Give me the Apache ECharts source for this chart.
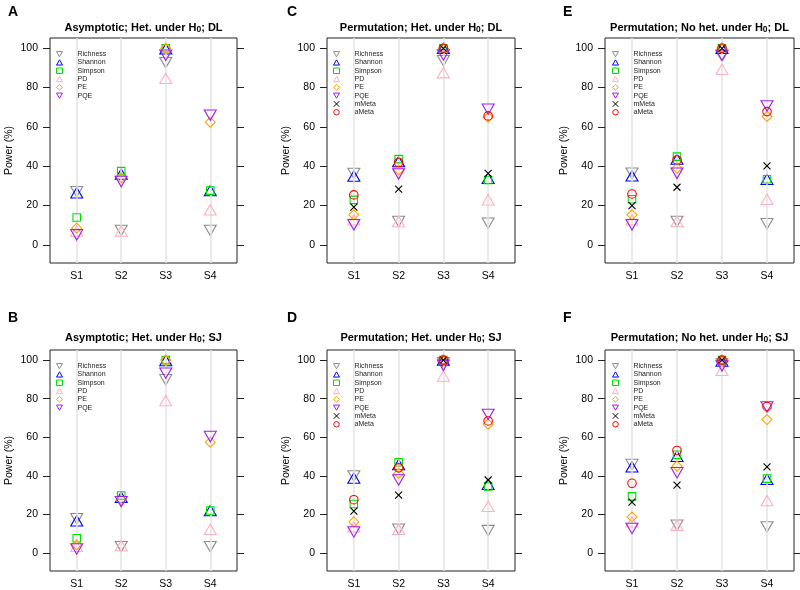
<!DOCTYPE html>
<html>
<head>
<meta charset="utf-8">
<script src="https://cdn.jsdelivr.net/npm/echarts@6/dist/echarts.min.js"></script>
<style>html,body{margin:0;padding:0;background:#fff}#c{width:800px;height:590px}</style>
</head>
<body>
<div id="c"></div>
<script>
// ---------- data ----------
const categories = ['S1', 'S2', 'S3', 'S4'];
const xPositions = [1, 2, 3, 4];
const yTicks = [0, 20, 40, 60, 80, 100];
const methodNames = ['Richness', 'Shannon', 'Simpson', 'PD', 'PE', 'PQE', 'mMeta', 'aMeta'];
const panelLetters = ['A', 'B', 'C', 'D', 'E', 'F'];
const panelTitles = [
  ['Asymptotic; Het. under ', '; DL'],
  ['Asymptotic; Het. under ', '; SJ'],
  ['Permutation; Het. under ', '; DL'],
  ['Permutation; Het. under ', '; SJ'],
  ['Permutation; No het. under ', '; DL'],
  ['Permutation; No het. under ', '; SJ']
];

// Panel A: Asymptotic; Het. under H0; DL
const A_Richness = [27.0, 7.3, 92.7, 7.3];
const A_Shannon  = [26.5, 36.0, 99.7, 27.6];
const A_Simpson  = [13.9, 37.5, 100, 27.6];
const A_PD       = [7.0, 7.0, 84.7, 17.8];
const A_PE       = [8.5, 34.2, 100, 62.4];
const A_PQE      = [5.1, 32.2, 96.5, 66.0];
// Panel B: Asymptotic; Het. under H0; SJ
const B_Richness = [17.9, 3.4, 89.8, 3.4];
const B_Shannon  = [16.8, 29.0, 99.8, 22.1];
const B_Simpson  = [7.7, 29.9, 100, 22.1];
const B_PD       = [3.5, 3.9, 79.0, 12.4];
const B_PE       = [4.3, 27.7, 100, 57.5];
const B_PQE      = [2.2, 26.7, 93.2, 60.4];
// Panel C: Permutation; Het. under H0; DL
const C_Richness = [36.3, 11.9, 93.7, 11.0];
const C_Shannon  = [35.0, 42.4, 100, 33.9];
const C_Simpson  = [22.9, 43.6, 100, 33.0];
const C_PD       = [12.7, 11.9, 87.6, 22.9];
const C_PE       = [15.3, 38.1, 100, 64.9];
const C_PQE      = [10.2, 36.1, 96.6, 69.0];
const C_mMeta    = [19.2, 28.3, 100, 36.4];
const C_aMeta    = [25.4, 41.9, 100, 65.6];
// Panel D: Permutation; Het. under H0; SJ
const D_Richness = [40.0, 12.4, 98.6, 11.7];
const D_Shannon  = [38.9, 45.9, 100, 35.7];
const D_Simpson  = [25.5, 47.1, 100, 34.5];
const D_PD       = [13.6, 12.4, 91.8, 24.3];
const D_PE       = [16.2, 41.3, 100, 66.8];
const D_PQE      = [11.0, 37.9, 97.3, 71.9];
const D_mMeta    = [21.8, 30.1, 100, 37.9];
const D_aMeta    = [27.7, 44.2, 100, 68.5];
// Panel E: Permutation; No het. under H0; DL
const E_Richness = [36.4, 11.9, 96.0, 10.7];
const E_Shannon  = [35.1, 43.6, 100, 33.4];
const E_Simpson  = [23.2, 44.9, 100, 33.4];
const E_PD       = [12.7, 11.9, 89.3, 23.2];
const E_PE       = [15.3, 39.0, 100, 65.3];
const E_PQE      = [10.2, 36.4, 96.5, 70.7];
const E_mMeta    = [20.0, 29.3, 100, 40.2];
const E_aMeta    = [25.9, 43.2, 100, 67.8];
// Panel F: Permutation; No het. under H0; SJ
const F_Richness = [45.9, 14.5, 98.0, 13.6];
const F_Shannon  = [44.7, 50.2, 99.5, 38.3];
const F_Simpson  = [29.4, 51.0, 100, 38.6];
const F_PD       = [16.2, 14.5, 94.7, 27.2];
const F_PE       = [18.7, 45.1, 100, 69.2];
const F_PQE      = [12.8, 41.7, 97.0, 75.7];
const F_mMeta    = [26.4, 35.2, 100, 44.7];
const F_aMeta    = [36.2, 53.2, 100, 76.0];

const panelSeries = [
  [A_Richness, A_Shannon, A_Simpson, A_PD, A_PE, A_PQE],
  [B_Richness, B_Shannon, B_Simpson, B_PD, B_PE, B_PQE],
  [C_Richness, C_Shannon, C_Simpson, C_PD, C_PE, C_PQE, C_mMeta, C_aMeta],
  [D_Richness, D_Shannon, D_Simpson, D_PD, D_PE, D_PQE, D_mMeta, D_aMeta],
  [E_Richness, E_Shannon, E_Simpson, E_PD, E_PE, E_PQE, E_mMeta, E_aMeta],
  [F_Richness, F_Shannon, F_Simpson, F_PD, F_PE, F_PQE, F_mMeta, F_aMeta]
];

// ---------- styles ----------
const FONT = '"Liberation Sans", Arial, Helvetica, sans-serif';
const DOWN_TRI = 'path://M0,0L12,0L6,10.4Z';
const UP_TRI = 'path://M6,0L12,10.4L0,10.4Z';
const methodStyles = [
  { color: '#8c8c8c', symbol: DOWN_TRI, size: [12, 10.4] },
  { color: '#0000ff', symbol: UP_TRI, size: [12, 10.4] },
  { color: '#00e000', symbol: 'rect', size: [7.5, 7.5] },
  { color: '#ffb0c0', symbol: UP_TRI, size: [12, 10.4] },
  { color: '#ffa500', symbol: 'diamond', size: [10, 10] },
  { color: '#a020f0', symbol: DOWN_TRI, size: [12, 10.4] },
  { color: '#000000', symbol: 'path://M0,0L10,10M10,0L0,10', size: [7, 7] },
  { color: '#ff0000', symbol: 'circle', size: [8.5, 8.5] }
];

// layout: panel order A,B,C,D,E,F -> columns 0,0,1,1,2,2 ; rows 0,1
const colLeft = [50, 327, 605];
const colWidth = [187, 188, 189];
const rowTop = [38, 350];
const rowHeight = [225, 226];
const letterLeft = [8, 287, 563];
const letterTop = [5, 311];
const titleTop = [21, 331];
const legendLeft = [56, 333, 612];
const legendTop = [50, 362];

const grids = [], xAxes = [], yAxes = [], series = [], titles = [], legends = [];

panelSeries.forEach((list, p) => {
  const col = Math.floor(p / 2), row = p % 2;
  const L = colLeft[col], T = rowTop[row], W = colWidth[col], H = rowHeight[row];
  grids.push({ left: L, top: T, width: W, height: H, show: true, borderColor: '#222', borderWidth: 1, backgroundColor: 'transparent' });
  xAxes.push({
    type: 'value', gridIndex: p, min: 0.4, max: 4.6,
    axisLine: { show: false }, axisTick: { show: false }, splitLine: { show: false },
    axisLabel: { customValues: xPositions, formatter: v => categories[Math.round(v) - 1] || '', color: '#000', fontSize: 10.5, fontFamily: FONT, margin: 8 }
  });
  const yBase = {
    type: 'value', gridIndex: p, min: -9.24, max: 105.24,
    axisLine: { show: false }, splitLine: { show: false },
    axisTick: { show: true, inside: false, length: 7, customValues: yTicks, lineStyle: { color: '#222', width: 1 } }
  };
  yAxes.push(Object.assign({}, yBase, {
    position: 'left',
    name: 'Power (%)', nameLocation: 'middle', nameGap: 35,
    nameTextStyle: { color: '#000', fontSize: 10.5, fontFamily: FONT },
    axisLabel: { customValues: yTicks, color: '#000', fontSize: 10.5, fontFamily: FONT, margin: 12 }
  }));
  yAxes.push(Object.assign({}, yBase, { position: 'right', axisLabel: { show: false } }));

  // vertical guide lines at categories
  series.push({
    type: 'scatter', xAxisIndex: p, yAxisIndex: 2 * p, data: [], z: 1, silent: true,
    markLine: {
      silent: true, symbol: ['none', 'none'], label: { show: false }, animation: false,
      lineStyle: { color: '#e3e3e3', width: 1.5, type: 'solid' },
      emphasis: { disabled: true },
      data: xPositions.map(v => ({ xAxis: v }))
    }
  });

  const names = [];
  list.forEach((vals, m) => {
    const st = methodStyles[m];
    names.push(methodNames[m]);
    series.push({
      type: 'scatter', name: methodNames[m], xAxisIndex: p, yAxisIndex: 2 * p, z: 3 + m,
      data: vals.map((v, i) => [xPositions[i], v]),
      symbol: st.symbol, symbolSize: st.size,
      itemStyle: { color: 'transparent', borderColor: st.color, borderWidth: 1.1, opacity: 1 },
      emphasis: { disabled: true }, silent: true
    });
  });

  legends.push({
    data: names, orient: 'vertical', left: legendLeft[col], top: legendTop[row], padding: 0,
    itemWidth: 6, itemHeight: 5.5, itemGap: 0, selectedMode: false,
    textStyle: { fontSize: 7, lineHeight: 8.3, color: '#222', fontFamily: FONT, padding: [0, 0, 0, 10] },
    itemStyle: { borderWidth: 1 }
  });

  titles.push({
    text: panelLetters[p], left: letterLeft[col], top: letterTop[row], padding: 0,
    textStyle: { fontSize: 14, fontWeight: 'bold', color: '#000', fontFamily: FONT }
  });
  titles.push({
    text: panelTitles[p][0] + 'H{sub|0}' + panelTitles[p][1],
    left: L + W / 2, top: titleTop[row], textAlign: 'center', padding: 0,
    textStyle: {
      fontSize: 11, fontWeight: 'bold', color: '#000', fontFamily: FONT,
      rich: { sub: { fontSize: 8.5, fontWeight: 'bold', color: '#000', fontFamily: FONT, verticalAlign: 'top', padding: [4, 0, 0, 0] } }
    }
  });
});

const chart = echarts.init(document.getElementById('c'), null, { renderer: 'canvas' });
chart.setOption({
  animation: false,
  backgroundColor: '#fff',
  title: titles,
  legend: legends,
  grid: grids,
  xAxis: xAxes,
  yAxis: yAxes,
  series: series
});
</script>
</body>
</html>
